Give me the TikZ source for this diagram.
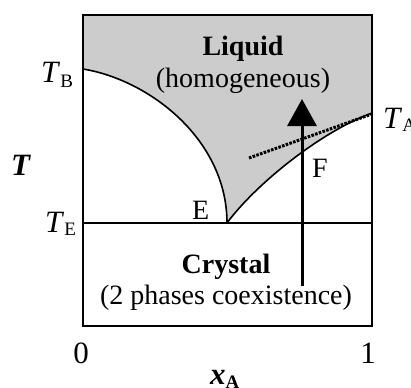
\documentclass[tikz,border=0pt]{standalone}
\usepackage{fontspec}
\setmainfont{Liberation Serif}
\usetikzlibrary{arrows.meta}
\tikzset{
  body/.style={font=\fontsize{28bp}{32bp}\selectfont, inner sep=0pt},
  lbl/.style={font=\fontsize{31bp}{34bp}\selectfont, inner sep=0pt},
  curve/.style={line width=1.6bp},
}
\newcommand{\subsz}{\fontsize{19bp}{20bp}\selectfont}
\begin{document}
\begin{tikzpicture}[x=1bp,y=-1bp]
\useasboundingbox (0,0) rectangle (411,388);
% coordinates
\coordinate (TL) at (83,15);
\coordinate (TR) at (372,15);
\coordinate (BL) at (83,326);
\coordinate (BR) at (372,326);
\coordinate (B) at (83,69);
\coordinate (E) at (227,223);
\coordinate (A) at (372,113);
\coordinate (EL) at (83,223);
\coordinate (ER) at (372,223);
% liquid region
\fill[black!20] (TL) -- (TR) -- (A) .. controls (320,132) and (255,185) .. (E)
  .. controls (227,140) and (150,80) .. (B) -- cycle;
% curves
\draw[curve] (B) .. controls (150,80) and (227,140) .. (E);
\draw[curve] (E) .. controls (255,185) and (320,132) .. (A);
\draw[line width=1.3bp] (EL) -- (ER);
% dotted tangent
\coordinate (D1) at (249,158);
\coordinate (D2) at (372,114);
\draw[line width=3bp, dash pattern=on 2.6bp off 1.3bp] (D1) -- (D2);
% frame
\draw[line width=2.6bp] (TL) rectangle (BR);
% arrow
\coordinate (S0) at (302,286);
\coordinate (S1) at (302,99);
\draw[line width=3bp, -{Triangle[width=29bp,length=27bp]}] (S0) -- (S1);
% texts
\node[body, anchor=base, font=\fontsize{28bp}{32bp}\selectfont\bfseries] (liq) at (243,55) {Liquid};
\node[body, anchor=base] (hom) at (243,87) {(homogeneous)};
\node[body, anchor=base, font=\fontsize{28bp}{32bp}\selectfont\bfseries] (cry) at (226,273) {Crystal};
\node[body, anchor=base] (coex) at (226,304) {(2 phases coexistence)};
\node[body, anchor=base west] (El) at (192,219) {E};
\node[body, anchor=base west] (Fl) at (312,177) {F};
\node[lbl, anchor=base west] (TBl) at (41,82) {\textit{T}\raisebox{-5bp}{\subsz B}};
\node[lbl, anchor=base west] (TEl) at (45,232) {\textit{T}\raisebox{-3bp}{\subsz E}};
\node[lbl, anchor=base west] (TAl) at (383,128) {\textit{T}\raisebox{-3bp}{\subsz A}};
\node[lbl, anchor=base west, font=\fontsize{31bp}{34bp}\selectfont\bfseries\itshape] (Tl) at (11,175) {T};
\node[lbl, anchor=base] (zero) at (81,363) {0};
\node[lbl, anchor=base] (one) at (368,363) {1};
\node[lbl, anchor=base west] (xl) at (210,384) {\textbf{\textit{x}}\raisebox{-4bp}{\subsz\bfseries A}};
\end{tikzpicture}
\end{document}
